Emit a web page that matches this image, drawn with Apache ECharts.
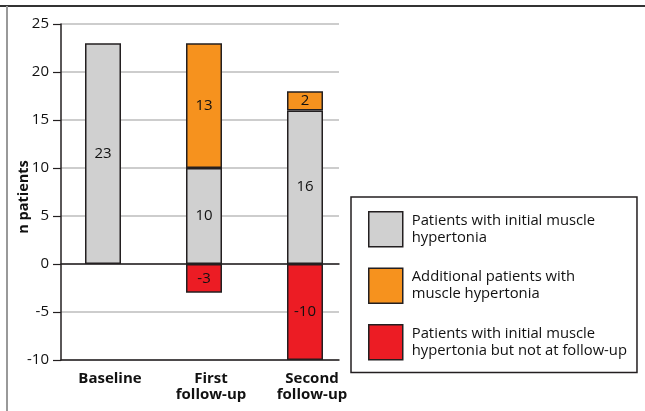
<!DOCTYPE html>
<html>
<head>
<meta charset="utf-8">
<script src="https://cdn.jsdelivr.net/npm/echarts@6/dist/echarts.min.js"></script>
<style>
  html, body { margin: 0; padding: 0; background: #fff; }
  #chart { width: 645px; height: 411px; }
</style>
</head>
<body>
<div id="chart"></div>
<script>
// Visits along the x axis
const categories = ['Baseline', 'First\nfollow-up', 'Second\nfollow-up'];

// Patient counts per visit
const initialHypertonia = [23, 10, 16];
const additionalHypertonia = ['-', 13, 2];
const resolvedHypertonia = ['-', -3, -10];

// Series names shown in the legend
const seriesNames = [
  'Patients with initial muscle\nhypertonia',
  'Additional patients with\nmuscle hypertonia',
  'Patients with initial muscle\nhypertonia but not at follow-up'
];

// Value axis ticks
const yTicks = { min: -10, max: 25, step: 5 };

const FONT = 'Open Sans';
const colors = ['#d0d0d0', '#f6921e', '#ec1c24'];

const chart = echarts.init(document.getElementById('chart'), null, { renderer: 'canvas' });

const barStyle = (color) => ({ color: color, borderColor: '#231f20', borderWidth: 1.5 });
const barLabel = {
  show: true,
  position: 'inside',
  color: '#111',
  fontFamily: FONT,
  fontSize: 15
};

const yAxisBase = {
  type: 'value',
  min: yTicks.min,
  max: yTicks.max,
  interval: yTicks.step
};

chart.setOption({
  animation: false,
  backgroundColor: '#fff',
  grid: [
    // grid carrying the gridlines and the y axis
    { left: 61, top: 24, width: 278, height: 336 },
    // grid carrying the bars and the category labels
    { left: 52.5, top: 24, width: 303, height: 336 }
  ],
  xAxis: [
    {
      gridIndex: 0, type: 'category', data: categories,
      axisLine: { onZero: true, lineStyle: { color: '#231f20', width: 1.5 } },
      axisTick: { show: false }, axisLabel: { show: false }
    },
    {
      gridIndex: 0, type: 'category', data: categories, position: 'bottom',
      axisLine: { onZero: false, lineStyle: { color: '#231f20', width: 1.5 } },
      axisTick: { show: false }, axisLabel: { show: false }
    },
    {
      gridIndex: 1, type: 'category', data: categories,
      axisLine: { show: false }, axisTick: { show: false },
      axisLabel: {
        margin: 11,
        fontFamily: FONT, fontSize: 15, fontWeight: 'bold', color: '#111',
        lineHeight: 16, padding: [0, 0, 0, 14]
      }
    }
  ],
  yAxis: [
    Object.assign({}, yAxisBase, {
      gridIndex: 0,
      name: 'n patients',
      nameLocation: 'middle',
      nameGap: 30,
      nameMoveOverlap: false,
      nameRotate: 90,
      nameTextStyle: {
        fontFamily: FONT, fontSize: 14.5, fontWeight: 'bold', color: '#111',
        padding: [0, 10, 0, 0]
      },
      axisLine: { show: true, lineStyle: { color: '#231f20', width: 1.5 } },
      axisTick: { show: true, length: 8, lineStyle: { color: '#231f20', width: 1.2 } },
      axisLabel: { margin: 12, fontFamily: FONT, fontSize: 15, color: '#111' },
      splitLine: { show: true, lineStyle: { color: '#bdbdbd', width: 1.5 } }
    }),
    Object.assign({}, yAxisBase, { gridIndex: 1, show: false, splitLine: { show: false } })
  ],
  legend: {
    orient: 'vertical',
    left: 351,
    top: 197,
    padding: [14, 10, 12, 17],
    itemWidth: 34,
    itemHeight: 35,
    itemGap: 20,
    icon: 'rect',
    borderColor: '#231f20',
    borderWidth: 1.5,
    backgroundColor: '#fff',
    itemStyle: { borderColor: '#231f20', borderWidth: 1.5 },
    textStyle: { fontFamily: FONT, fontSize: 14.8, lineHeight: 17, color: '#111', padding: [0, 0, 0, 4] },
    data: seriesNames
  },
  graphic: [
    { type: 'line', shape: { x1: 0, y1: 6, x2: 645, y2: 6 }, style: { stroke: '#333', lineWidth: 2 }, z: 100 },
    { type: 'line', shape: { x1: 7, y1: 6, x2: 7, y2: 411 }, style: { stroke: '#999', lineWidth: 2 }, z: 100 }
  ],
  series: [
    {
      name: seriesNames[0], type: 'bar', stack: 'n', xAxisIndex: 2, yAxisIndex: 1,
      barWidth: 36, data: initialHypertonia, itemStyle: barStyle(colors[0]), label: barLabel
    },
    {
      name: seriesNames[1], type: 'bar', stack: 'n', xAxisIndex: 2, yAxisIndex: 1,
      barWidth: 36, data: additionalHypertonia, itemStyle: barStyle(colors[1]), label: barLabel
    },
    {
      name: seriesNames[2], type: 'bar', stack: 'n', xAxisIndex: 2, yAxisIndex: 1,
      barWidth: 36, data: resolvedHypertonia, itemStyle: barStyle(colors[2]), label: barLabel
    }
  ]
});
</script>
</body>
</html>
